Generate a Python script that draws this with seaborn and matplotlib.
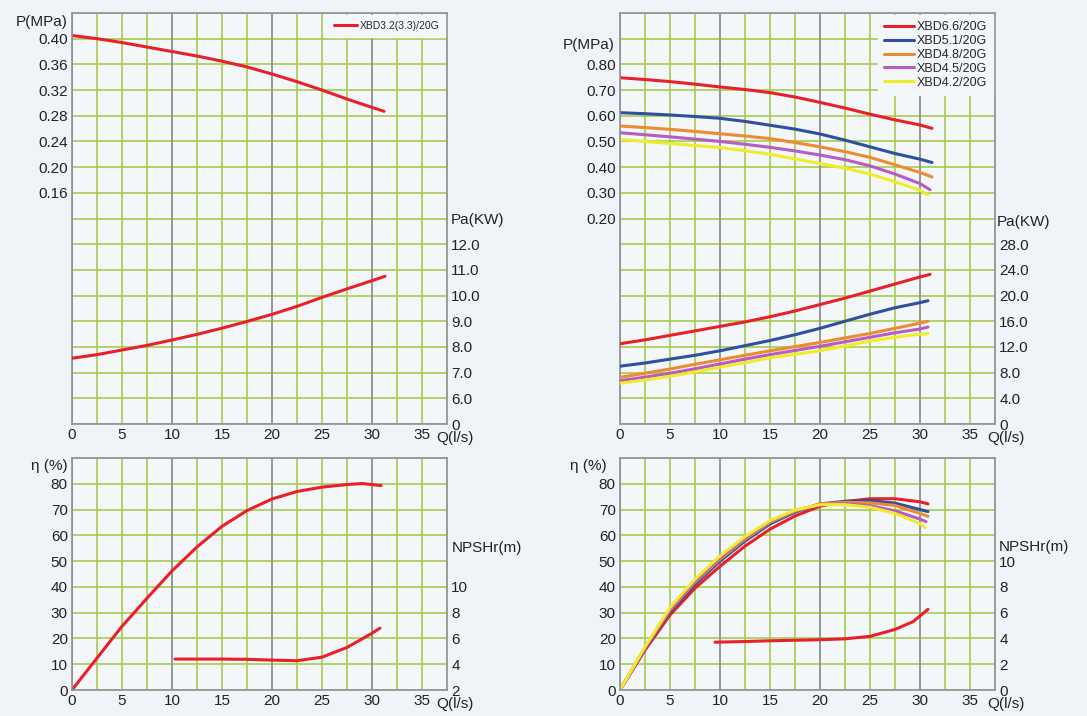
import matplotlib
matplotlib.use("Agg")
import matplotlib.pyplot as plt
from matplotlib.ticker import MultipleLocator
import seaborn as sns

sns.set_theme(style="white")
plt.rcParams["font.family"] = ["Liberation Sans Narrow", "Liberation Sans", "DejaVu Sans"]

BG = "#eef4f8"
AX_BG = "#f3f7fa"
GREEN = "#a6cb4e"
GRAY = "#8c9299"
RED = "#e8202a"
BLUE = "#2f4f9f"
ORANGE = "#ee8a30"
PURPLE = "#b75cc0"
YELLOW = "#f0ec2a"

# ---- x axis (flow) ----
Q_TICKS = [0, 5, 10, 15, 20, 25, 30, 35]

# ---- left pump: XBD3.2(3.3)/20G ----
L_NAME = "XBD3.2(3.3)/20G"
L_Q_P = [0, 2.5, 5, 7.5, 10, 12.5, 15, 17.5, 20, 22.5, 25, 27.5, 30, 31.2]
L_P = [0.405, 0.400, 0.394, 0.387, 0.380, 0.373, 0.365, 0.356, 0.345, 0.333, 0.320, 0.306, 0.293, 0.287]
L_Q_PA = [0, 2.5, 5, 7.5, 10, 12.5, 15, 17.5, 20, 22.5, 25, 27.5, 30, 31.3]
L_PA = [7.56, 7.70, 7.88, 8.06, 8.27, 8.49, 8.73, 8.99, 9.27, 9.58, 9.93, 10.26, 10.58, 10.75]
L_Q_ETA = [0, 2.5, 5, 7.5, 10, 12.5, 15, 17.5, 20, 22.5, 25, 27.5, 29, 30.9]
L_ETA = [0, 12.4, 24.7, 35.6, 46.2, 55.5, 63.5, 69.6, 74.1, 77.0, 78.7, 79.7, 80.1, 79.3]
L_Q_NPSH = [10.3, 12.5, 15, 17.5, 20, 22.5, 25, 27.5, 30, 30.8]
L_NPSH = [4.4, 4.4, 4.4, 4.38, 4.32, 4.27, 4.55, 5.3, 6.4, 6.8]

L_P_TICKS = [0.16, 0.20, 0.24, 0.28, 0.32, 0.36, 0.40]
L_PA_TICKS = [5, 6, 7, 8, 9, 10, 11, 12]
L_PA_LABELS = ["0", "6.0", "7.0", "8.0", "9.0", "10.0", "11.0", "12.0"]
L_NPSH_TICKS = [2, 4, 6, 8, 10]

# ---- right pumps ----
R_NAMES = ["XBD6.6/20G", "XBD5.1/20G", "XBD4.8/20G", "XBD4.5/20G", "XBD4.2/20G"]
R_COLORS = [RED, BLUE, ORANGE, PURPLE, YELLOW]
R_Q = [0, 2.5, 5, 7.5, 10, 12.5, 15, 17.5, 20, 22.5, 25, 27.5, 30]
R_Q_END_P = [31.2, 31.2, 31.2, 31.0, 30.8]
R_P = [
    [0.748, 0.741, 0.733, 0.723, 0.712, 0.702, 0.690, 0.673, 0.652, 0.630, 0.606, 0.584, 0.564, 0.551],
    [0.612, 0.608, 0.603, 0.597, 0.590, 0.578, 0.563, 0.548, 0.529, 0.505, 0.479, 0.453, 0.431, 0.418],
    [0.560, 0.554, 0.547, 0.539, 0.530, 0.521, 0.511, 0.496, 0.479, 0.460, 0.438, 0.409, 0.379, 0.362],
    [0.534, 0.526, 0.518, 0.509, 0.500, 0.489, 0.477, 0.463, 0.447, 0.429, 0.405, 0.373, 0.336, 0.312],
    [0.508, 0.500, 0.492, 0.484, 0.476, 0.464, 0.450, 0.432, 0.414, 0.396, 0.373, 0.343, 0.310, 0.292],
]
R_Q_END_PA = [31.0, 30.8, 30.8, 30.8, 30.8]
R_PA = [
    [12.5, 13.1, 13.8, 14.5, 15.2, 15.9, 16.7, 17.6, 18.6, 19.6, 20.7, 21.8, 22.9, 23.3],
    [9.0, 9.5, 10.1, 10.7, 11.4, 12.2, 13.0, 13.9, 14.9, 16.0, 17.1, 18.1, 18.9, 19.2],
    [7.27, 7.9, 8.57, 9.3, 10.0, 10.7, 11.4, 12.05, 12.7, 13.4, 14.1, 14.9, 15.7, 16.0],
    [6.75, 7.3, 7.9, 8.6, 9.35, 10.1, 10.8, 11.45, 12.1, 12.8, 13.5, 14.2, 14.8, 15.1],
    [6.34, 6.85, 7.43, 8.1, 8.83, 9.55, 10.3, 10.85, 11.4, 12.15, 12.9, 13.5, 14.0, 14.1],
]
R_Q_END_ETA = [30.8, 30.8, 30.8, 30.6, 30.5]
R_ETA = [
    [0, 15.5, 29.1, 39.5, 48.0, 55.8, 62.4, 67.5, 71.3, 73.1, 74.2, 74.2, 73.0, 72.2],
    [0, 16.0, 30.4, 41.0, 50.0, 57.8, 64.4, 69.0, 72.2, 73.2, 73.5, 72.5, 70.0, 69.2],
    [0, 16.3, 31.0, 41.8, 50.7, 58.5, 65.0, 69.4, 72.2, 72.8, 72.6, 71.6, 68.5, 67.4],
    [0, 16.5, 31.5, 42.3, 51.3, 59.0, 65.4, 69.6, 71.9, 72.2, 71.5, 69.5, 66.3, 65.3],
    [0, 16.8, 32.0, 43.0, 52.0, 59.5, 65.7, 69.8, 71.9, 71.9, 70.9, 68.5, 64.5, 63.0],
]
R_Q_NPSH = [9.5, 12.5, 15, 17.5, 20, 22.5, 25, 27.5, 29.3, 30.8]
R_NPSH = [3.71, 3.76, 3.82, 3.86, 3.9, 3.97, 4.16, 4.7, 5.3, 6.26]

R_P_TICKS = [0.20, 0.30, 0.40, 0.50, 0.60, 0.70, 0.80]
R_PA_TICKS = [0, 4, 8, 12, 16, 20, 24, 28]
R_PA_LABELS = ["0", "4.0", "8.0", "12.0", "16.0", "20.0", "24.0", "28.0"]
R_NPSH_TICKS = [0, 2, 4, 6, 8, 10]
ETA_TICKS = [0, 10, 20, 30, 40, 50, 60, 70, 80]

W, H = 1087, 716
FS = 11
fig = plt.figure(figsize=(W / 100, H / 100), dpi=100, facecolor=BG)


def box(x0, y0, x1, y1):
    return [x0 / W, 1 - y1 / H, (x1 - x0) / W, (y1 - y0) / H]


def grid_panel(ax, ylim, step, yticks, ylabels):
    ax.set_facecolor(AX_BG)
    ax.set_xlim(0, 37.5)
    ax.set_ylim(*ylim)
    ax.set_xticks(Q_TICKS)
    ax.set_xticklabels([str(q) for q in Q_TICKS])
    ax.xaxis.set_minor_locator(MultipleLocator(2.5))
    ax.yaxis.set_minor_locator(MultipleLocator(step))
    ax.set_yticks(yticks)
    ax.set_yticklabels(ylabels)
    ax.grid(which="both", color=GREEN, linewidth=1.2)
    ax.set_axisbelow(True)
    for q in Q_TICKS[::2]:
        ax.axvline(q, color=GRAY, linewidth=1.2, zorder=0.8)
    ax.tick_params(which="both", length=0, labelsize=FS, pad=3, colors="#222222")
    for s in ax.spines.values():
        s.set_visible(True)
        s.set_color(GRAY)
        s.set_linewidth(1.2)
    ax.set_xlabel("")
    ax.set_ylabel("")


def right_axis(ax, ylim, ticks, labels):
    tw = ax.twinx()
    tw.set_ylim(*ylim)
    tw.set_yticks(ticks)
    tw.set_yticklabels(labels)
    tw.grid(False)
    tw.tick_params(length=0, labelsize=FS, pad=3, colors="#222222")
    for s in tw.spines.values():
        s.set_visible(False)
    return tw


def curve(ax, q, v, color, label=None):
    sns.lineplot(x=q, y=v, ax=ax, color=color, linewidth=2.2, sort=False,
                 estimator=None, label=label, legend=label is not None)
    ax.set_xlabel("")
    ax.set_ylabel("")


# ---------- left column ----------
ax_lt = fig.add_axes(box(72, 13, 447, 424))
ax_lb = fig.add_axes(box(72, 458, 447, 690))
grid_panel(ax_lt, (-0.20, 0.44), 0.04, L_P_TICKS, [f"{v:.2f}" for v in L_P_TICKS])
tw_lt = right_axis(ax_lt, (5, 21), L_PA_TICKS, L_PA_LABELS)
curve(ax_lt, L_Q_P, L_P, RED, L_NAME)
curve(tw_lt, L_Q_PA, L_PA, RED)
ax_lt.legend(loc="upper right", frameon=True, facecolor=AX_BG, edgecolor=AX_BG,
             framealpha=1, fancybox=False, fontsize=7.5, handlelength=2.2,
             handletextpad=0.2, borderaxespad=0.15, borderpad=0.6)

grid_panel(ax_lb, (0, 90), 10, ETA_TICKS, [str(v) for v in ETA_TICKS])
tw_lb = right_axis(ax_lb, (2, 20), L_NPSH_TICKS, [str(v) for v in L_NPSH_TICKS])
curve(ax_lb, L_Q_ETA, L_ETA, RED)
curve(tw_lb, L_Q_NPSH, L_NPSH, RED)

# ---------- right column ----------
ax_rt = fig.add_axes(box(620, 13, 995, 424))
ax_rb = fig.add_axes(box(620, 458, 995, 690))
grid_panel(ax_rt, (-0.60, 1.0), 0.10, R_P_TICKS, [f"{v:.2f}" for v in R_P_TICKS])
tw_rt = right_axis(ax_rt, (0, 64), R_PA_TICKS, R_PA_LABELS)
for name, col, qe, p in zip(R_NAMES, R_COLORS, R_Q_END_P, R_P):
    curve(ax_rt, R_Q + [qe], p, col, name)
for col, qe, pa in zip(R_COLORS, R_Q_END_PA, R_PA):
    curve(tw_rt, R_Q + [qe], pa, col)
ax_rt.legend(loc="upper right", frameon=True, facecolor=AX_BG, edgecolor=AX_BG,
             framealpha=1, fancybox=False, fontsize=9, handlelength=2.4,
             handletextpad=0.2, labelspacing=0.15, borderaxespad=0.15, borderpad=0.5)

grid_panel(ax_rb, (0, 90), 10, ETA_TICKS, [str(v) for v in ETA_TICKS])
tw_rb = right_axis(ax_rb, (0, 18), R_NPSH_TICKS, [str(v) for v in R_NPSH_TICKS])
for col, qe, eta in zip(R_COLORS, R_Q_END_ETA, R_ETA):
    curve(ax_rb, R_Q + [qe], eta, col)
curve(tw_rb, R_Q_NPSH, R_NPSH, RED)


# ---------- axis titles ----------
def label(x, y, s, ha="left"):
    fig.text(x / W, 1 - y / H, s, ha=ha, va="center", fontsize=FS, color="#222222")


label(68, 22, "P(MPa)", ha="right")
label(451, 220, "Pa(KW)")
label(436, 438, "Q(l/s)")
label(68, 466, "η (%)", ha="right")
label(452, 548, "NPSHr(m)")
label(436, 704, "Q(l/s)")

label(615, 45, "P(MPa)", ha="right")
label(997, 222, "Pa(KW)")
label(987, 438, "Q(l/s)")
label(607, 466, "η (%)", ha="right")
label(999, 547, "NPSHr(m)")
label(987, 704, "Q(l/s)")

fig.savefig("out.png", dpi=100, facecolor=BG)
